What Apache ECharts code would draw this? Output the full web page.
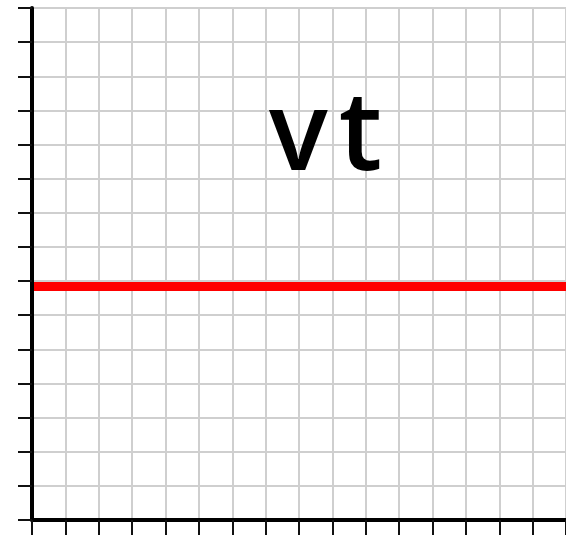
<!DOCTYPE html>
<html>
<head>
<meta charset="utf-8">
<script src="https://cdn.jsdelivr.net/npm/echarts@6/dist/echarts.min.js"></script>
<style>
  html, body { margin: 0; padding: 0; background: #fff; }
  #chart { width: 566px; height: 546px; }
</style>
</head>
<body>
<div id="chart"></div>
<script>
// Horizontal v(t) graph: constant value over time on squared paper.
const timeRange = [0, 16];
const valueRange = [0, 15];
const velocityLevel = 6.84;
const lineTimes = [0.06, 16];
const titleParts = ['v', 't'];

const chart = echarts.init(document.getElementById('chart'), null, { renderer: 'canvas' });

const points = lineTimes.map(t => [t, velocityLevel]);

const titleGlyph = {
  fontFamily: 'Open Sans',
  fontSize: 110,
  fontWeight: 600,
  color: '#000',
  lineHeight: 113
};

chart.setOption({
  animation: false,
  backgroundColor: '#ffffff',
  grid: { left: 32, right: -11, top: 8, bottom: 26, containLabel: false },
  xAxis: {
    type: 'value',
    min: timeRange[0],
    max: timeRange[1],
    interval: 1,
    axisLine: { show: true, onZero: false, lineStyle: { color: '#000', width: 4 } },
    axisTick: { show: true, inside: false, length: 15, lineStyle: { color: '#111', width: 2 } },
    axisLabel: { show: false },
    splitLine: { show: true, lineStyle: { color: '#cfcfcf', width: 2 } }
  },
  yAxis: {
    type: 'value',
    min: valueRange[0],
    max: valueRange[1],
    interval: 1,
    axisLine: { show: true, onZero: false, lineStyle: { color: '#000', width: 4 } },
    axisTick: { show: true, inside: false, length: 14, lineStyle: { color: '#111', width: 2 } },
    axisLabel: { show: false },
    splitLine: { show: true, lineStyle: { color: '#cfcfcf', width: 2 } }
  },
  graphic: [{
    type: 'text',
    left: 269,
    top: 84,
    z: 10,
    style: {
      text: '{a|' + titleParts[0] + '}{b|' + titleParts[1] + '}',
      rich: {
        a: Object.assign({ padding: [0, 11, 0, 0] }, titleGlyph),
        b: Object.assign({}, titleGlyph)
      }
    }
  }],
  series: [{
    type: 'line',
    data: points,
    symbol: 'none',
    z: 2,
    lineStyle: { color: '#ff0000', width: 9 }
  }]
});
</script>
</body>
</html>
